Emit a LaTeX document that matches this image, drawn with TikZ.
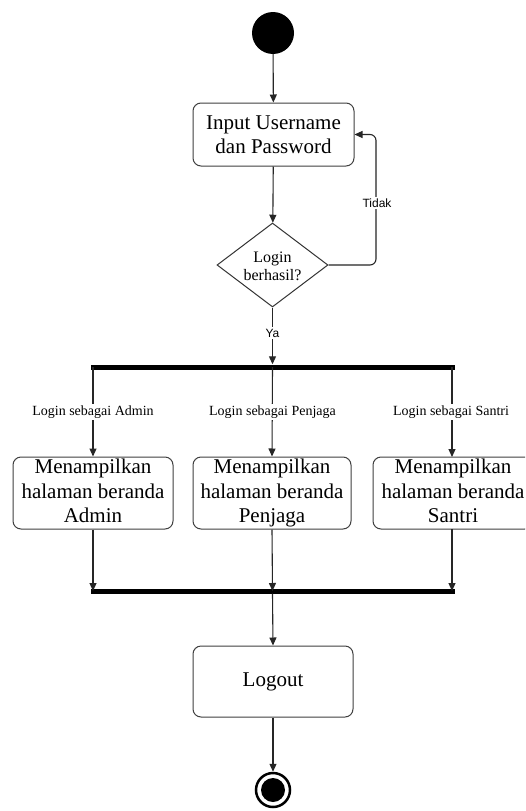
\documentclass[tikz,border=0pt]{standalone}
\usepackage{fontspec}
\setmainfont{Liberation Serif}
\newfontfamily\labelsans{Liberation Sans}
\usetikzlibrary{arrows.meta,shapes.geometric}

\tikzset{
  flow/.style={draw=black!85, line width=1.1pt, -{Triangle[length=8pt,width=7pt]}},
  actbox/.style={draw=black!75, line width=1pt, rounded corners=8pt, fill=white,
    inner sep=0pt, align=center, font=\fontsize{21}{24.5}\selectfont},
  decbox/.style={draw=black!80, line width=1pt, diamond, fill=white, inner sep=0pt,
    minimum width=111pt, minimum height=84pt},
  bar/.style={fill=black, draw=none, inner sep=0pt, minimum height=5pt},
  guard/.style={fill=white, inner sep=1.5pt, font=\fontsize{14}{16}\selectfont},
  sanslabel/.style={fill=white, inner sep=1.5pt, font=\labelsans\fontsize{12}{14}\selectfont},
}

\begin{document}
\begin{tikzpicture}[x=1pt,y=-1pt]
  \useasboundingbox (0,0) rectangle (525,811);
  \fill[white] (0,0) rectangle (525,811);
  \clip (0,0) rectangle (525,811);

  % initial node
  \node[circle, fill=black, inner sep=0pt, minimum size=42pt] (start) at (273,33) {};

  % credentials input
  \node[actbox, minimum width=161pt, minimum height=63pt] (input) at (273.5,134.5)
    {Input Username\\dan Password};

  % login decision
  \node[decbox, label={[align=center, font=\fontsize{16}{18}\selectfont, yshift=-1pt]center:Login\\berhasil?}]
    (dec) at (272.5,265) {};

  % fork bar
  \node[bar, minimum width=364pt] (fork) at (272.5,367) {};
  \coordinate (fa) at (93,367);
  \coordinate (fp) at (272.5,367);
  \coordinate (fs) at (452,367);

  % home pages per role (the phantom keeps all three baselines level)
  \node[actbox, minimum width=160pt, minimum height=72pt] (admin) at (93,493)
    {Menampilkan\\halaman beranda\\Admin\vphantom{g}};
  \node[actbox, minimum width=158pt, minimum height=72pt] (penjaga) at (272,493)
    {Menampilkan\\halaman beranda\\Penjaga\vphantom{g}};
  \node[actbox, minimum width=160pt, minimum height=72pt] (santri) at (453,493)
    {Menampilkan\\halaman beranda\\Santri\vphantom{g}};

  % join bar
  \node[bar, minimum width=364pt] (join) at (272.5,591) {};
  \coordinate (ja) at (93,591);
  \coordinate (jp) at (272.5,591);
  \coordinate (js) at (452,591);

  % logout
  \node[actbox, minimum width=160pt, minimum height=71pt] (logout) at (273,681.5) {Logout};

  % final node
  \node[circle, draw=black, line width=2.5pt, fill=white, inner sep=0pt, minimum size=34pt] (final) at (273,790) {};
  \fill[black] (final.center) circle (12pt);

  % connectors
  \draw[flow] (start) -- (input);
  \draw[flow] (input) -- (dec);
  \draw[flow, rounded corners=6pt] (dec.east) -- (376,265) -- (376,134.5) -- (input.east);
  \node[sanslabel] (tidak) at (377,203) {Tidak};
  \draw[flow] (dec.south) -- (fork.north);
  \node[sanslabel] (ya) at (272.5,333) {Ya};

  \draw[flow] (fa) -- (admin.north);
  \draw[flow] (fp) -- (penjaga.north);
  \draw[flow] (fs) -- (452,457);
  \node[guard] (ga) at (93,412) {Login sebagai Admin};
  \node[guard] (gp) at (272.5,412) {Login sebagai Penjaga};
  \node[guard] (gs) at (451,412) {Login sebagai Santri};

  \draw[flow] (admin.south) -- (ja);
  \draw[flow] (penjaga.south) -- (jp);
  \draw[flow] (452,529) -- (js);
  \draw[flow] (join.south) -- (logout.north);
  \draw[flow] (logout.south) -- (final.north);
\end{tikzpicture}
\end{document}
